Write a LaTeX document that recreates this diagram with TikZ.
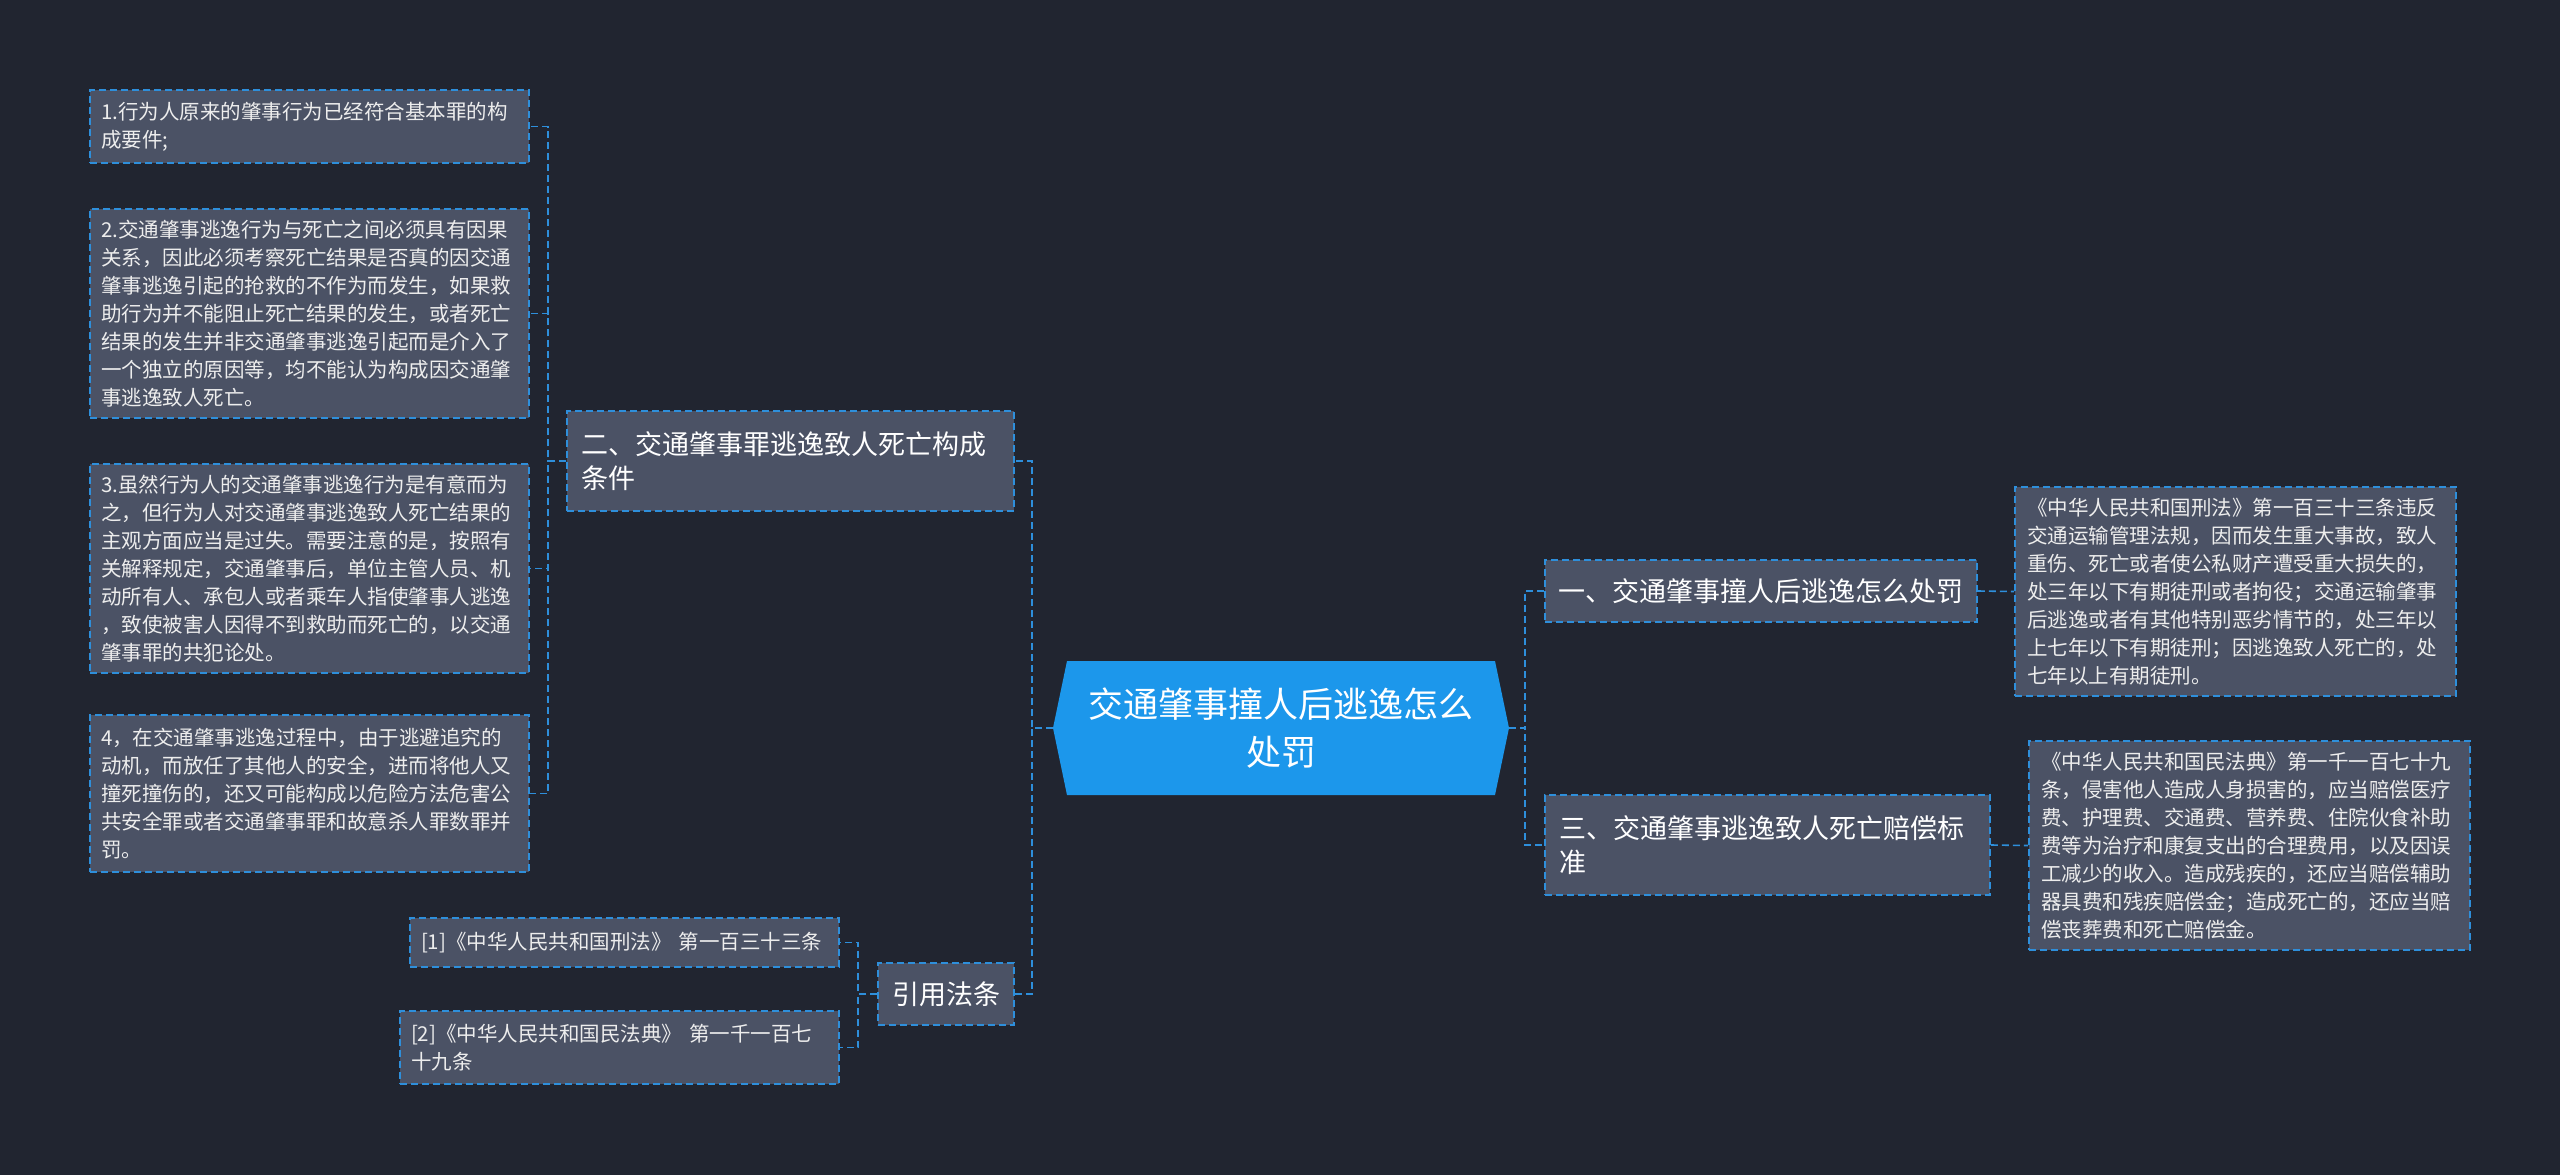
\documentclass[tikz,border=0pt]{standalone}
\usepackage{fontspec}
\setmainfont{Noto Sans CJK SC}

\definecolor{fond}{HTML}{212530}
\definecolor{gris}{HTML}{4B5265}
\definecolor{bleu}{HTML}{2E8FDB}
\definecolor{bleuvif}{HTML}{1C97EB}
\definecolor{texte}{HTML}{EDEDED}

\tikzset{
  link/.style={draw=bleu, line width=1.6pt, dash pattern=on 7pt off 4pt},
  boite/.style={link, fill=gris, text=texte, align=left},
  feuille/.style={boite, font=\fontsize{20.5}{28}\selectfont,
    text width=417pt, inner xsep=11pt, inner ysep=10pt, minimum width=439pt},
  branche/.style={boite, text=white, font=\fontsize{27}{34}\selectfont,
    inner xsep=14pt, inner ysep=12pt},
  central/.style={fill=fond, text=white, align=center, inner sep=0pt,
    font=\fontsize{35}{48}\selectfont, text width=400pt,
    minimum width=456pt, minimum height=134pt,
    path picture={\fill[bleuvif] (path picture bounding box.west)
      -- ([xshift=14pt]path picture bounding box.north west)
      -- ([xshift=-14pt]path picture bounding box.north east)
      -- (path picture bounding box.east)
      -- ([xshift=-14pt]path picture bounding box.south east)
      -- ([xshift=14pt]path picture bounding box.south west) -- cycle;}}
}

\begin{document}
\begin{tikzpicture}[x=1pt,y=-1pt]

    % Fond
    \fill[fond] (0,0) rectangle (2560,1175);
    \useasboundingbox (0,0) rectangle (2560,1175);

    % Longueur des petits bouts avant les troncs
    \pgfmathsetmacro{\stubl}{18}
    \pgfmathsetmacro{\stubc}{21}

    % Noeud central
    \node[central] (main) at (1281,728) {交通肇事撞人后逃逸怎么\\处罚};

    % ---- Branches ----
    \node[branche, text width=419pt, minimum width=447pt, minimum height=100pt] (er) at (790.5,461)
      {二、交通肇事罪逃逸致人死亡构成\\条件};
    \node[branche, minimum width=136pt, minimum height=62pt] (yy) at (946,994) {引用法条};
    \node[branche, text width=405pt, inner xsep=13.5pt, minimum width=432pt, minimum height=62pt] (yi) at (1761,591)
      {一、交通肇事撞人后逃逸怎么处罚};
    \node[branche, text width=417pt, minimum width=445pt, minimum height=100pt] (san) at (1767.5,845)
      {三、交通肇事逃逸致人死亡赔偿标\\准};

    % ---- Feuilles de gauche ----
    \node[feuille, minimum height=73pt] (l1) at (309.5,126.5)
      {1.行为人原来的肇事行为已经符合基本罪的构\\成要件;};
    \node[feuille, minimum height=209pt] (l2) at (309.5,313.5)
      {2.交通肇事逃逸行为与死亡之间必须具有因果\\
       关系，因此必须考察死亡结果是否真的因交通\\
       肇事逃逸引起的抢救的不作为而发生，如果救\\
       助行为并不能阻止死亡结果的发生，或者死亡\\
       结果的发生并非交通肇事逃逸引起而是介入了\\
       一个独立的原因等，均不能认为构成因交通肇\\
       事逃逸致人死亡。};
    \node[feuille, minimum height=209pt] (l3) at (309.5,568.5)
      {3.虽然行为人的交通肇事逃逸行为是有意而为\\
       之，但行为人对交通肇事逃逸致人死亡结果的\\
       主观方面应当是过失。需要注意的是，按照有\\
       关解释规定，交通肇事后，单位主管人员、机\\
       动所有人、承包人或者乘车人指使肇事人逃逸\\
       ，致使被害人因得不到救助而死亡的，以交通\\
       肇事罪的共犯论处。};
    \node[feuille, minimum height=157pt] (l4) at (309.5,793.5)
      {4，在交通肇事逃逸过程中，由于逃避追究的\\
       动机，而放任了其他人的安全，进而将他人又\\
       撞死撞伤的，还又可能构成以危险方法危害公\\
       共安全罪或者交通肇事罪和故意杀人罪数罪并\\
       罚。};

    % Références
    \node[feuille, text width=407pt, minimum width=429pt, minimum height=49pt] (r1) at (624.5,942.5)
      {[1]《中华人民共和国刑法》~第一百三十三条};
    \node[feuille, minimum height=73pt] (r2) at (619.5,1047.5)
      {[2]《中华人民共和国民法典》~第一千一百七\\十九条};

    % ---- Feuilles de droite ----
    \node[feuille, minimum width=441pt, minimum height=209pt] (a1) at (2235.5,591.5)
      {《中华人民共和国刑法》第一百三十三条违反\\
       交通运输管理法规，因而发生重大事故，致人\\
       重伤、死亡或者使公私财产遭受重大损失的，\\
       处三年以下有期徒刑或者拘役；交通运输肇事\\
       后逃逸或者有其他特别恶劣情节的，处三年以\\
       上七年以下有期徒刑；因逃逸致人死亡的，处\\
       七年以上有期徒刑。};
    \node[feuille, minimum width=441pt, minimum height=209pt] (a2) at (2249.5,845.5)
      {《中华人民共和国民法典》第一千一百七十九\\
       条，侵害他人造成人身损害的，应当赔偿医疗\\
       费、护理费、交通费、营养费、住院伙食补助\\
       费等为治疗和康复支出的合理费用，以及因误\\
       工减少的收入。造成残疾的，还应当赔偿辅助\\
       器具费和残疾赔偿金；造成死亡的，还应当赔\\
       偿丧葬费和死亡赔偿金。};

    % ---- Connecteurs ----
    \draw[link] (main.west) -- ++(-\stubc,0) |- (er.east);
    \draw[link] (main.west) -- ++(-\stubc,0) |- (yy.east);
    \draw[link] (main.east) -- ++(16,0) |- (yi.west);
    \draw[link] (main.east) -- ++(16,0) |- (san.west);
    \draw[link] (yi.east) -- (a1.west);
    \draw[link] (san.east) -- (a2.west);
    \foreach \f in {l1,l2,l3,l4}{
      \draw[link] (er.west) -- ++(-\stubl,0) |- (\f.east);
    }
    \foreach \f in {r1,r2}{
      \draw[link] (yy.west) -- ++(-19,0) |- (\f.east);
    }

\end{tikzpicture}
\end{document}
